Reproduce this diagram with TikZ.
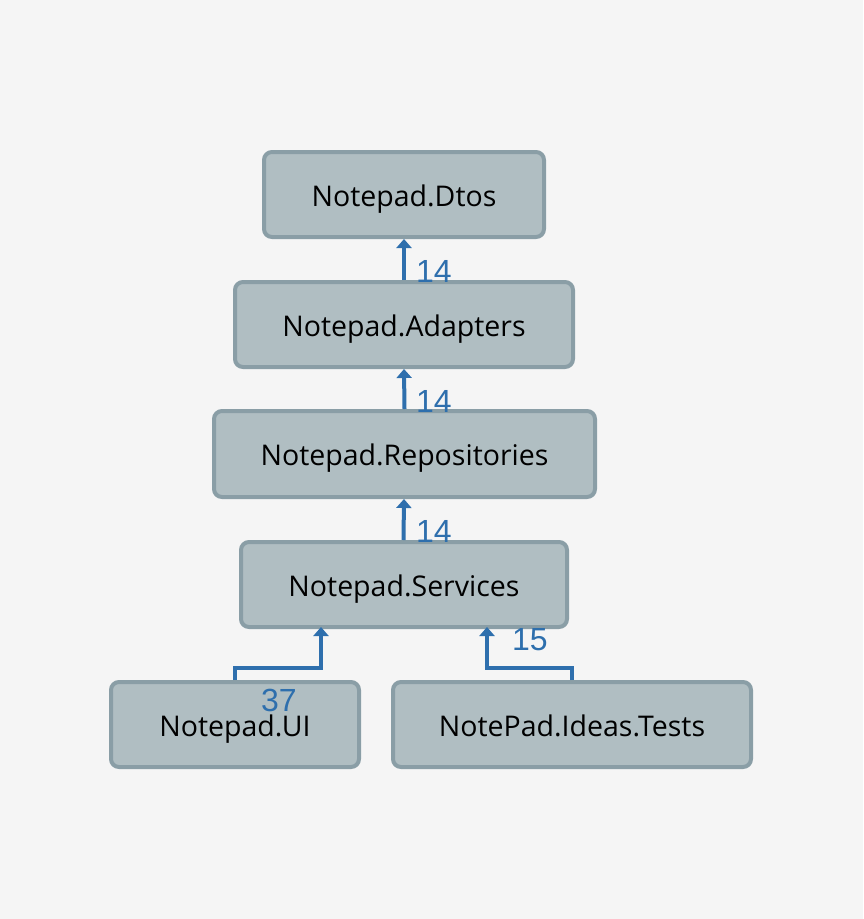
\documentclass[tikz,border=0pt]{standalone}
\usepackage{fontspec}
\setmainfont{Open Sans}
\newfontfamily\labfont{Liberation Sans}
\usetikzlibrary{arrows.meta}
\definecolor{bg}{HTML}{F5F5F5}
\definecolor{boxfill}{HTML}{B0BEC2}
\definecolor{boxline}{HTML}{8A9EA6}
\definecolor{arr}{HTML}{2E6FAD}
\tikzset{
  pkg/.style={draw=boxline, fill=boxfill, line width=4pt, rounded corners=8pt, inner sep=0pt,
    font=\fontsize{28.5}{32}\selectfont, text=black, text height=23pt, text depth=0pt},
  dep/.style={draw=arr, line width=4pt, -{Triangle[width=15pt,length=9pt]}},
  cnt/.style={text=arr, font=\labfont\fontsize{32}{34}\selectfont, inner sep=0pt}
}
\begin{document}
\begin{tikzpicture}[x=1pt,y=-1pt]
\fill[bg] (0,0) rectangle (863,919);
\useasboundingbox (0,0) rectangle (863,919);
\node[pkg, minimum width=280pt, minimum height=85pt] (dtos) at (404,194.5) {Notepad.Dtos};
\node[pkg, minimum width=338pt, minimum height=85pt] (adapt) at (404,324.5) {Notepad.Adapters};
\node[pkg, minimum width=381pt, minimum height=86pt] (repo) at (404.5,454) {Notepad.Repositories};
\node[pkg, minimum width=326pt, minimum height=85pt] (serv) at (404,584.5) {Notepad.Services};
\node[pkg, minimum width=248pt, minimum height=85pt] (ui) at (235,724.5) {Notepad.UI};
\node[pkg, minimum width=358pt, minimum height=85pt] (tests) at (572,724.5) {NotePad.Ideas.Tests};
\draw[dep] (adapt.north) -- (dtos.south);
\draw[dep] (repo.north) -- (adapt.south);
\draw[dep] ([xshift=-0.5pt]serv.north) -- ([xshift=-0.5pt]repo.south);
\coordinate (uiA) at (321,627);
\coordinate (teA) at (487,627);
\draw[dep] (ui.north) -- (235,668) -- (321,668) -- (uiA);
\draw[dep] (tests.north) -- (572,668) -- (487,668) -- (teA);
\node[cnt] (l1) at (434,271) {14};
\node[cnt] (l2) at (434,401) {14};
\node[cnt] (l3) at (434,531) {14};
\node[cnt] (l4) at (279,700) {37};
\node[cnt] (l5) at (530,640) {15};
\end{tikzpicture}
\end{document}
